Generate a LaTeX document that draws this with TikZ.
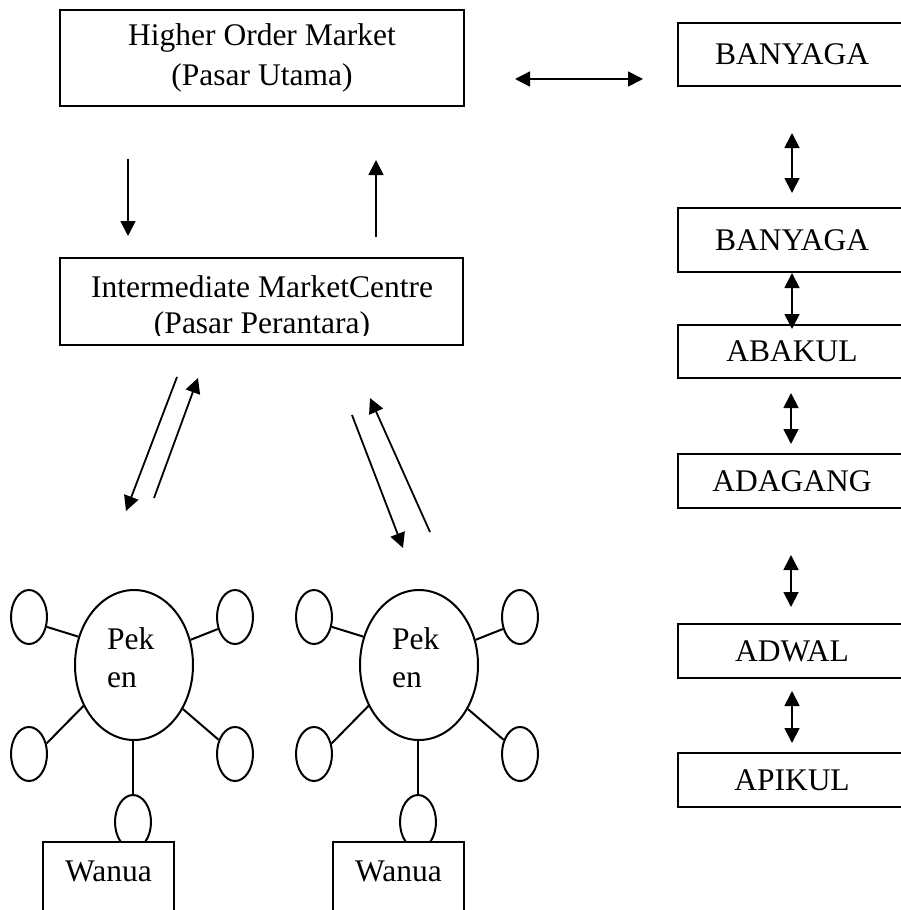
\documentclass[tikz,border=0pt]{standalone}
\usepackage{fontspec}
\setmainfont{Liberation Serif}
\usetikzlibrary{arrows.meta, shapes.geometric}

\tikzset{
    box/.style={draw, line width=2pt, fill=white, inner sep=0pt, align=center,
        font=\fontsize{31.5}{40}\selectfont},
    oneway/.style={line width=1.8pt, -{Triangle[length=15pt, width=15pt]}},
    twoway/.style={line width=1.8pt,
        {Triangle[length=15pt, width=15pt]}-{Triangle[length=15pt, width=15pt]}},
    bigoval/.style={draw, ellipse, line width=2pt, inner sep=0pt,
        minimum width=118pt, minimum height=150pt},
    smalloval/.style={draw, ellipse, line width=2pt, inner sep=0pt,
        minimum width=36pt, minimum height=54pt},
    spoke/.style={line width=2pt}
}

\begin{document}
\begin{tikzpicture}[x=1pt, y=-1pt]
    \useasboundingbox (0,0) rectangle (901,910);

    % Market levels --  --  --  --  --  --  --  --  --  --  --  --  --
    \node[box, minimum width=404pt, minimum height=96pt] (higher) at (262,58)
        {Higher Order Market\\(Pasar Utama)};

    % text runs below the frame, so its lower edge is cut off
    \begin{scope}
        \clip (0,0) rectangle (901,335);
        \node[box, draw=none, fill=none, font=\fontsize{31.5}{36}\selectfont]
            (intertext) at (262,308) {Intermediate MarketCentre\\(Pasar Perantara)};
    \end{scope}
    \node[box, fill=none, minimum width=403pt, minimum height=87pt] (inter) at (261.5,301.5) {};

    % Flows between the markets
    \coordinate (d0) at (128,159);
    \coordinate (d1) at (128,236);
    \coordinate (u0) at (376,237);
    \coordinate (u1) at (376,160);
    \draw[oneway] (d0) -- (d1);
    \draw[oneway] (u0) -- (u1);

    \coordinate (la0) at (177,377);
    \coordinate (la1) at (126,511);
    \coordinate (lb0) at (154,498);
    \coordinate (lb1) at (198,378);
    \draw[oneway] (la0) -- (la1);
    \draw[oneway] (lb0) -- (lb1);

    \coordinate (ra0) at (352,415);
    \coordinate (ra1) at (403,548);
    \coordinate (rb0) at (430,532);
    \coordinate (rb1) at (370,398);
    \draw[oneway] (ra0) -- (ra1);
    \draw[oneway] (rb0) -- (rb1);
    %  --  --  --  --  --  --  --  --  --  --  --  --  --  --  --  --

    % Peken with their villages --  --  --  --  --  --  --  --  --  --
    \foreach \dx/\bx/\n in {0/0/1, 285/290/2} {
        \node[bigoval] (peken\n) at ({134+\dx},665) {};
        \node[anchor=north west, inner sep=0pt, align=left,
            font=\fontsize{31.5}{38}\selectfont] (pektext\n) at ({107+\dx},627.5) {Pek\\en};

        \node[smalloval] (tl\n) at ({29+\dx},617) {};
        \node[smalloval] (tr\n) at ({235+\dx},617) {};
        \node[smalloval] (bl\n) at ({29+\dx},754) {};
        \node[smalloval] (br\n) at ({235+\dx},754) {};
        \node[smalloval] (bot\n) at ({133+\dx},822) {};

        \draw[spoke] (tl\n.-29) -- (peken\n.153);
        \draw[spoke] (tr\n.215) -- (peken\n.24.5);
        \draw[spoke] (bl\n.31) -- (peken\n.219.5);
        \draw[spoke] (br\n.139) -- (peken\n.-42);
        \draw[spoke] (bot\n.north) -- (bot\n.north |- peken\n.south);

        % village box hides the lower half of the oval
        \node[box, anchor=north, minimum width=131pt, text height=39pt, text depth=50pt]
            (wanua\n) at ({108.5+\bx},841) {Wanua};
    }
    %  --  --  --  --  --  --  --  --  --  --  --  --  --  --  --  --

    % Trader chain --  --  --  --  --  --  --  --  --  --  --  --  --
    \node[box, minimum width=228pt, minimum height=63pt] (ban1) at (792,54.5) {BANYAGA};
    \node[box, minimum width=228pt, minimum height=64pt] (ban2) at (792,240) {BANYAGA};
    \node[box, minimum width=228pt, minimum height=53pt] (abakul) at (792,351.5) {ABAKUL};
    \node[box, minimum width=228pt, minimum height=54pt] (adagang) at (792,481) {ADAGANG};
    \node[box, minimum width=228pt, minimum height=54pt] (adwal) at (792,651) {ADWAL};
    \node[box, minimum width=228pt, minimum height=54pt] (apikul) at (792,780) {APIKUL};

    \coordinate (h0) at (515,79);
    \coordinate (h1) at (643,79);
    \draw[twoway] (h0) -- (h1);

    \coordinate (v1a) at (792,133);
    \coordinate (v1b) at (792,193);
    \coordinate (v2a) at (792,273);
    \coordinate (v2b) at (792,329);
    \coordinate (v3a) at (791,393);
    \coordinate (v3b) at (791,444);
    \coordinate (v4a) at (791,555);
    \coordinate (v4b) at (791,607);
    \coordinate (v5a) at (792,691);
    \coordinate (v5b) at (792,743);
    \foreach \k in {1,...,5}
        \draw[twoway] (v\k a) -- (v\k b);
    %  --  --  --  --  --  --  --  --  --  --  --  --  --  --  --  --
\end{tikzpicture}
\end{document}
